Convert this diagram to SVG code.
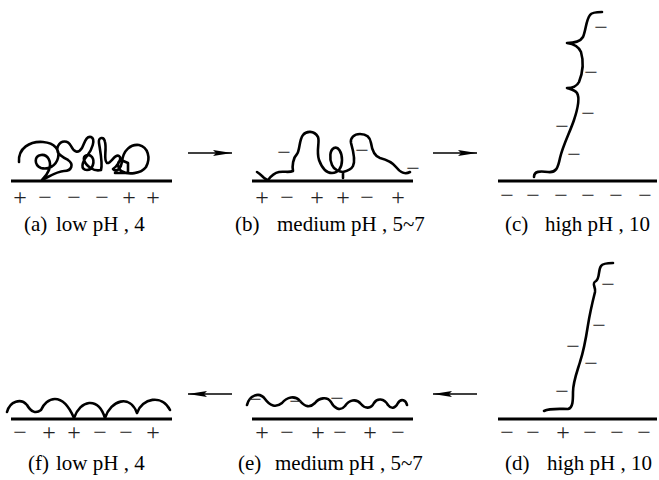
<svg xmlns="http://www.w3.org/2000/svg" width="659" height="480" viewBox="0 0 659 480">
  <style>
    .surface { stroke: #000; stroke-width: 3; fill: none; }
    .chain { stroke: #000; stroke-width: 2.6; fill: none; stroke-linecap: round; stroke-linejoin: round; }
    .flow { stroke: #000; stroke-width: 1.6; fill: none; }
    .label { font-family: "Liberation Serif", "Times New Roman", serif; font-size: 21px; fill: #000; }
    .charge { font-family: "Liberation Serif", "Times New Roman", serif; font-size: 24px; fill: #222; text-anchor: middle; }
  </style>
  <defs>
    <marker id="head" markerWidth="20" markerHeight="8" refX="19" refY="4" orient="auto" markerUnits="userSpaceOnUse">
      <path d="M0,1 L19,4 L0,7 L3,4 Z" fill="#000"/>
    </marker>
  </defs>

  <rect width="659" height="480" fill="#fff"/>

  <!-- process arrows -->
  <g id="connectors">
    <line class="flow" x1="188" y1="153" x2="232" y2="153" marker-end="url(#head)"/>
    <line class="flow" x1="433" y1="153" x2="477" y2="153" marker-end="url(#head)"/>
    <line class="flow" x1="477" y1="394" x2="433" y2="394" marker-end="url(#head)"/>
    <line class="flow" x1="232" y1="394" x2="188" y2="394" marker-end="url(#head)"/>
  </g>

  <!-- (a) low pH: coiled chain -->
  <g id="panel-a">
    <line class="surface" x1="11" y1="181" x2="172" y2="181"/>
    <path class="chain" d="M19 162 C18 148,30 141,43 142 C55 143,60 150,58 158 C56 166,48 170,41 168 C34 165,34 156,41 155 C48 154,52 162,49 170 C47 175,44 178,42 180 C50 176,58 171,64 171 C72 171,74 164,68 160 C61 156,55 153,58 146 C61 140,68 140,71 146 C74 152,78 154,82 148 C85 142,86 136,91 137 C96 139,92 150,87 156 C82 162,80 170,87 170 C93 170,95 161,92 157 C89 153,83 155,84 160 C86 166,94 172,101 170 C103 164,100 150,99 143 C98 137,104 136,105 142 C107 150,103 160,107 163 C111 164,115 153,119 156 C123 159,116 167,113 169 C117 173,121 168,122 162 C123 150,131 144,139 145 C148 147,151 158,146 167 C141 174,128 175,121 171 C117 167,117 162,121 160 L128 163 L128 173 L115 173"/>
    <text class="charge" x="20" y="205">+</text>
    <text class="charge" x="45" y="205">−</text>
    <text class="charge" x="74" y="205">−</text>
    <text class="charge" x="102" y="205">−</text>
    <text class="charge" x="129" y="205">+</text>
    <text class="charge" x="153" y="205">+</text>
    <text class="label" x="24" y="231">(a)</text>
    <text class="label" x="56" y="231">low pH , 4</text>
  </g>

  <!-- (b) medium pH: looped chain -->
  <g id="panel-b">
    <line class="surface" x1="252" y1="181" x2="413" y2="181"/>
    <path class="chain" d="M257 172 C262 175,265 180,268 180 C271 176,274 173,279 172 C284 171,289 173,293 171 C292 166,293 158,297 154 C300 150,299 140,303 135 C306 131,314 130,318 137 C320 142,316 150,319 160 C322 168,326 173,332 173 C338 173,342 168,342 160 C342 152,338 146,334 148 C330 150,329 158,332 165 C334 170,340 172,343 172 L343 178 M343 172 C347 171,351 170,353 166 C356 160,353 150,351 143 C350 138,354 134,360 134 C366 134,370 136,371 143 C372 150,374 156,380 158 C388 160,392 162,396 167 C400 172,404 175,410 172"/>
    <text class="charge" x="284" y="160">−</text>
    <text class="charge" x="362" y="158">−</text>
    <text class="charge" x="413" y="176">−</text>
    <text class="charge" x="262" y="205">+</text>
    <text class="charge" x="287" y="205">−</text>
    <text class="charge" x="317" y="205">+</text>
    <text class="charge" x="343" y="205">+</text>
    <text class="charge" x="367" y="205">−</text>
    <text class="charge" x="398" y="205">+</text>
    <text class="label" x="235" y="231">(b)</text>
    <text class="label" x="277" y="231">medium pH , 5~7</text>
  </g>

  <!-- (c) high pH: extended chain -->
  <g id="panel-c">
    <line class="surface" x1="498" y1="181" x2="657" y2="181"/>
    <path class="chain" d="M534 177 C534 171,540 171,548 172 C556 173,558 168,560 158 C563 145,570 132,574 120 C578 108,580 98,577 93 C575 90,570 89,567 88 C572 88,577 86,579 82 C583 72,584 62,581 52 C579 47,574 44,567 43 C574 43,580 42,583 37 C586 30,586 20,590 15 C592 12,597 12,602 12"/>
    <text class="charge" x="601" y="35">−</text>
    <text class="charge" x="591" y="80">−</text>
    <text class="charge" x="588" y="121">−</text>
    <text class="charge" x="562" y="134">−</text>
    <text class="charge" x="574" y="162">−</text>
    <text class="charge" x="507" y="203">−</text>
    <text class="charge" x="533" y="203">−</text>
    <text class="charge" x="561" y="203">−</text>
    <text class="charge" x="588" y="203">−</text>
    <text class="charge" x="616" y="203">−</text>
    <text class="charge" x="645" y="203">−</text>
    <text class="label" x="505" y="231">(c)</text>
    <text class="label" x="545" y="231">high pH , 10</text>
  </g>

  <!-- (d) high pH: extended chain -->
  <g id="panel-d">
    <line class="surface" x1="498" y1="419" x2="657" y2="419"/>
    <path class="chain" d="M544 411 C550 408,560 409,568 409 C573 408,573 400,573 392 C573 382,577 372,580 362 C584 350,586 338,588 325 C590 312,593 300,595 292 C596 286,591 284,596 281 C600 278,598 270,601 266 C603 263,608 263,613 263"/>
    <text class="charge" x="608" y="292">−</text>
    <text class="charge" x="599" y="333">−</text>
    <text class="charge" x="573" y="354">−</text>
    <text class="charge" x="591" y="371">−</text>
    <text class="charge" x="562" y="399">−</text>
    <text class="charge" x="507" y="440">−</text>
    <text class="charge" x="533" y="440">−</text>
    <text class="charge" x="563" y="440">+</text>
    <text class="charge" x="590" y="440">−</text>
    <text class="charge" x="617" y="440">−</text>
    <text class="charge" x="644" y="440">−</text>
    <text class="label" x="505" y="470">(d)</text>
    <text class="label" x="547" y="470">high pH , 10</text>
  </g>

  <!-- (e) medium pH: wavy chain -->
  <g id="panel-e">
    <line class="surface" x1="252" y1="419" x2="413" y2="419"/>
    <path class="chain" d="M247 405 C249 396,259 391,265 399 C270 406,276 408,282 403 C287 397,295 395,300 401 C305 407,310 408,315 403 C319 398,327 396,331 402 C334 408,340 412,345 406 C349 400,356 398,361 404 C365 409,371 409,374 403 C377 398,384 398,388 405 C391 409,395 409,398 403 C401 398,406 400,407 405"/>
    <text class="charge" x="255" y="407">−</text>
    <text class="charge" x="296" y="409">−</text>
    <text class="charge" x="337" y="406">−</text>
    <text class="charge" x="262" y="440">+</text>
    <text class="charge" x="287" y="440">−</text>
    <text class="charge" x="318" y="440">+</text>
    <text class="charge" x="340" y="440">−</text>
    <text class="charge" x="370" y="440">+</text>
    <text class="charge" x="398" y="440">−</text>
    <text class="label" x="238" y="470">(e)</text>
    <text class="label" x="275" y="470">medium pH , 5~7</text>
  </g>

  <!-- (f) low pH: flattened arcs -->
  <g id="panel-f">
    <line class="surface" x1="11" y1="419" x2="172" y2="419"/>
    <path class="chain" d="M7 412 C10 401,21 398,27 405 C31 412,36 414,41 410 C46 398,62 390,74 418 C80 400,98 396,105 418 C111 400,130 394,137 413 C142 398,162 394,170 410"/>
    <text class="charge" x="20" y="440">−</text>
    <text class="charge" x="49" y="440">+</text>
    <text class="charge" x="74" y="440">+</text>
    <text class="charge" x="100" y="440">−</text>
    <text class="charge" x="126" y="440">−</text>
    <text class="charge" x="153" y="440">+</text>
    <text class="label" x="28" y="470">(f)</text>
    <text class="label" x="56" y="470">low pH , 4</text>
  </g>
</svg>
